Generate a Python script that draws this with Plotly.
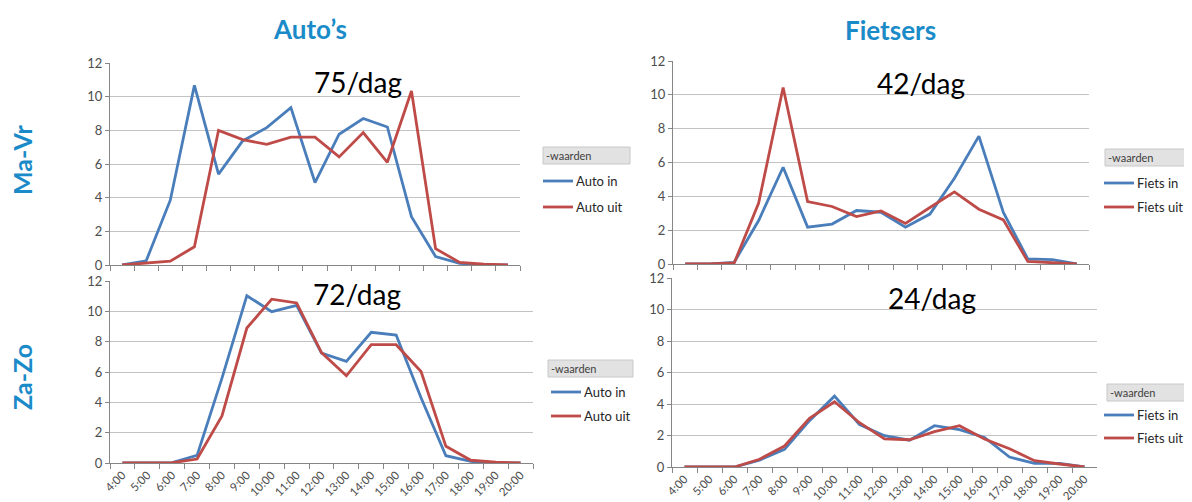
import plotly.graph_objects as go

# Uurcategorieën
uren = [f"{h}:00" for h in range(4, 21)]

# Auto's Ma-Vr
auto_in_mavr = [0, 0.25, 3.85, 10.67, 5.4, 7.37, 8.16, 9.35, 4.9, 7.77, 8.7, 8.2, 2.87, 0.5, 0.1, 0, 0]
auto_uit_mavr = [0, 0.1, 0.23, 1.08, 8.0, 7.45, 7.17, 7.6, 7.6, 6.42, 7.87, 6.1, 10.34, 0.97, 0.15, 0.05, 0]
# Auto's Za-Zo
auto_in_zazo = [0, 0, 0.03, 0.5, 5.6, 11.03, 9.98, 10.4, 7.24, 6.7, 8.62, 8.44, 4.3, 0.48, 0.1, 0, 0]
auto_uit_zazo = [0, 0, 0.02, 0.26, 3.1, 8.9, 10.8, 10.55, 7.28, 5.75, 7.8, 7.8, 6.03, 1.1, 0.18, 0.05, 0]
# Fietsers Ma-Vr
fiets_in_mavr = [0, 0, 0.1, 2.57, 5.72, 2.18, 2.36, 3.16, 3.06, 2.18, 2.95, 5.07, 7.56, 3.05, 0.3, 0.26, 0]
fiets_uit_mavr = [0, 0, 0.06, 3.6, 10.43, 3.69, 3.4, 2.8, 3.14, 2.4, 3.34, 4.26, 3.24, 2.61, 0.15, 0.06, 0]
# Fietsers Za-Zo
fiets_in_zazo = [0, 0, 0, 0.44, 1.12, 2.94, 4.5, 2.7, 1.99, 1.7, 2.62, 2.37, 1.88, 0.63, 0.23, 0.23, 0]
fiets_uit_zazo = [0, 0, 0, 0.49, 1.33, 3.09, 4.14, 2.81, 1.78, 1.73, 2.24, 2.62, 1.78, 1.16, 0.4, 0.19, 0]

totalen = ["75/dag", "72/dag", "42/dag", "24/dag"]

# de pagina heeft 8px body-marge: figuur past precies in het venster
OFFSET = 8
W, H = 1192 - OFFSET, 502 - OFFSET
BLAUW = "#4a7ebb"
ROOD = "#be4b48"
KOP = "#1a8bc8"
FONT = "Lato, 'Open Sans', sans-serif"


def px(x):
    # schermpixel -> paper-coördinaat
    return (x - OFFSET) / W


def py(y):
    return (502 - y) / H


# xas, yas, x-domein (px), y-domein (boven, onder px), reeksen, labels, totaal (tekst, x, y), x-labels
panelen = [
    ("x", "y", (110, 520), (63, 265), auto_in_mavr, auto_uit_mavr,
     ("Auto in", "Auto uit"), (totalen[0], 358, 82), False),
    ("x2", "y2", (110, 533), (281, 463), auto_in_zazo, auto_uit_zazo,
     ("Auto in", "Auto uit"), (totalen[1], 357, 294), True),
    ("x3", "y3", (673, 1089), (61, 264), fiets_in_mavr, fiets_uit_mavr,
     ("Fiets in", "Fiets uit"), (totalen[2], 921, 83), False),
    ("x4", "y4", (672, 1097), (278, 467), fiets_in_zazo, fiets_uit_zazo,
     ("Fiets in", "Fiets uit"), (totalen[3], 932, 298), True),
]

# handgetekende legenda's: kop (x0, y0, x1, y1), lijn-x0, y 'in', y 'uit'
legendas = [
    ((543, 147, 630, 164), 543, 181, 207),
    ((548, 360, 633, 377), 551, 392, 416),
    ((1105, 149, 1190, 166), 1104, 183, 207),
    ((1107, 384, 1190, 401), 1104, 415, 438),
]

fig = go.Figure()
layout = {}
annotations = []
shapes = []

for (xa, ya, (x0, x1), (yt, yb), s_in, s_uit, labels, (totaal, tx, ty), onder), \
        ((hx0, hy0, hx1, hy1), lx, y_in, y_uit) in zip(panelen, legendas):
    fig.add_trace(go.Scatter(
        x=uren, y=s_in, mode="lines", name=labels[0], xaxis=xa, yaxis=ya,
        line=dict(color=BLAUW, width=2.8), showlegend=False,
    ))
    fig.add_trace(go.Scatter(
        x=uren, y=s_uit, mode="lines", name=labels[1], xaxis=xa, yaxis=ya,
        line=dict(color=ROOD, width=2.8), showlegend=False,
    ))
    layout["xaxis" + xa[1:]] = dict(
        domain=[px(x0), px(x1)], anchor=ya, type="category",
        range=[-0.5, len(uren) - 0.5], tickson="boundaries",
        ticks="outside", ticklen=5, tickcolor="#868686",
        showline=True, linecolor="#868686", linewidth=1, showgrid=False,
        showticklabels=onder, tickangle=-45, automargin=False,
        tickfont=dict(size=11.5, color="#4d4d4d", family=FONT),
    )
    layout["yaxis" + ya[1:]] = dict(
        domain=[py(yb), py(yt)], anchor=xa, range=[0, 12], dtick=2,
        ticks="outside", ticklen=4, tickcolor="#868686",
        showline=True, linecolor="#868686", linewidth=1, automargin=False,
        showgrid=True, gridcolor="#c3c3c3", gridwidth=1, zeroline=False,
        tickfont=dict(size=13, color="#4d4d4d", family=FONT),
    )
    annotations.append(dict(
        text=totaal, xref="paper", yref="paper", x=px(tx), y=py(ty),
        xanchor="center", yanchor="middle", showarrow=False,
        font=dict(size=28, color="black", family=FONT),
    ))
    # legenda-kop
    shapes.append(dict(
        type="rect", xref="paper", yref="paper",
        x0=px(hx0), x1=px(hx1), y0=py(hy1), y1=py(hy0),
        fillcolor="#e2e2e2", line=dict(color="#c8c8c8", width=1), layer="below",
    ))
    annotations.append(dict(
        text="-waarden", xref="paper", yref="paper",
        x=px(hx0 + 1), y=py((hy0 + hy1) / 2), xanchor="left", yanchor="middle",
        showarrow=False, font=dict(size=11, color="#404040", family=FONT),
    ))
    # legenda-items
    for kleur, label, ly in ((BLAUW, labels[0], y_in), (ROOD, labels[1], y_uit)):
        shapes.append(dict(
            type="line", xref="paper", yref="paper",
            x0=px(lx), x1=px(lx + 30), y0=py(ly), y1=py(ly),
            line=dict(color=kleur, width=2.8),
        ))
        annotations.append(dict(
            text=label, xref="paper", yref="paper",
            x=px(lx + 31), y=py(ly), xanchor="left", yanchor="middle",
            showarrow=False, font=dict(size=13, color="#262626", family=FONT),
        ))

# Kolomtitels
annotations.append(dict(text="<b>Auto’s</b>", xref="paper", yref="paper",
                        x=px(310), y=py(29), xanchor="center", yanchor="middle",
                        showarrow=False, font=dict(size=26, color=KOP, family=FONT)))
annotations.append(dict(text="<b>Fietsers</b>", xref="paper", yref="paper",
                        x=px(890), y=py(30), xanchor="center", yanchor="middle",
                        showarrow=False, font=dict(size=26, color=KOP, family=FONT)))
# Rijtitels
annotations.append(dict(text="<b>Ma-Vr</b>", xref="paper", yref="paper",
                        x=px(22), y=py(160), xanchor="center", yanchor="middle",
                        showarrow=False, textangle=-90,
                        font=dict(size=25, color=KOP, family=FONT)))
annotations.append(dict(text="<b>Za-Zo</b>", xref="paper", yref="paper",
                        x=px(22), y=py(377), xanchor="center", yanchor="middle",
                        showarrow=False, textangle=-90,
                        font=dict(size=25, color=KOP, family=FONT)))

fig.update_layout(
    width=W, height=H,
    margin=dict(l=0, r=0, t=0, b=0, autoexpand=False),
    paper_bgcolor="white", plot_bgcolor="white",
    showlegend=False,
    annotations=annotations,
    shapes=shapes,
    **layout,
)

fig.write_html("out.html")
